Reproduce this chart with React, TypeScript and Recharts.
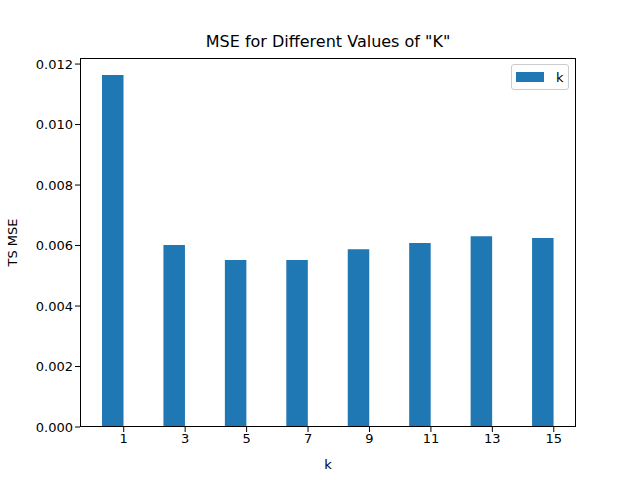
import React from 'react';
import { BarChart, Bar, XAxis, YAxis, Label } from 'recharts';

const categories = ['1', '3', '5', '7', '9', '11', '13', '15'];
const mseValues = [0.01164, 0.00602, 0.00552, 0.00552, 0.00588, 0.00608, 0.00631, 0.00625];
const yTicks = [0, 0.002, 0.004, 0.006, 0.008, 0.01, 0.012];

const data = categories.map((c, i) => ({ name: c, k: mseValues[i], pad: null }));

const font = 'DejaVu Sans, sans-serif';
const tickStyle = { fill: '#000', fontSize: 13, fontFamily: font };

export default function App() {
  return (
    <div style={{ position: 'absolute', left: 0, top: 0, width: 640, height: 480, background: '#fff' }}>
      <BarChart
        width={640}
        height={480}
        data={data}
        margin={{ top: 58, right: 64, left: 20, bottom: 23 }}
        barGap={0}
        barSize={21.5}
      >
        <XAxis
          dataKey="name"
          padding={{ left: 13, right: -8.5 }}
          height={30}
          tick={tickStyle}
          tickSize={5}
          axisLine={false}
          tickLine={{ stroke: '#000' }}
          interval={0}
        >
          <Label value="k" position="insideBottom" offset={-12} style={{ fill: '#000', fontSize: 13, fontFamily: font }} />
        </XAxis>
        <YAxis
          width={60}
          domain={[0, 0.0122]}
          ticks={yTicks}
          tickFormatter={(v: number) => v.toFixed(3)}
          tick={tickStyle}
          tickSize={5}
          axisLine={false}
          tickLine={{ stroke: '#000' }}
          interval={0}
        >
          <Label value="TS MSE" angle={-90} position="insideLeft" offset={-8} style={{ fill: '#000', fontSize: 13, fontFamily: font, textAnchor: 'middle' }} />
        </YAxis>
        <Bar dataKey="k" fill="#1f77b4" isAnimationActive={false} />
        <Bar dataKey="pad" fill="none" isAnimationActive={false} />
      </BarChart>
      {/* axes frame */}
      <div style={{ position: 'absolute', left: 80, top: 58, width: 496, height: 369, border: '1px solid #000', boxSizing: 'border-box', pointerEvents: 'none' }} />
      <div style={{ position: 'absolute', left: 80, width: 496, top: 32, textAlign: 'center', fontFamily: font, fontSize: 16, color: '#000' }}>
        MSE for Different Values of "K"
      </div>
      {/* legend */}
      <div style={{ position: 'absolute', left: 511, top: 64, width: 58, height: 26, border: '1px solid #ccc', borderRadius: 3, boxSizing: 'border-box', background: '#fff', display: 'flex', alignItems: 'center', fontFamily: font, fontSize: 13 }}>
        <div style={{ width: 28, height: 10, background: '#1f77b4', marginLeft: 4, marginRight: 12 }} />
        <span>k</span>
      </div>
    </div>
  );
}
